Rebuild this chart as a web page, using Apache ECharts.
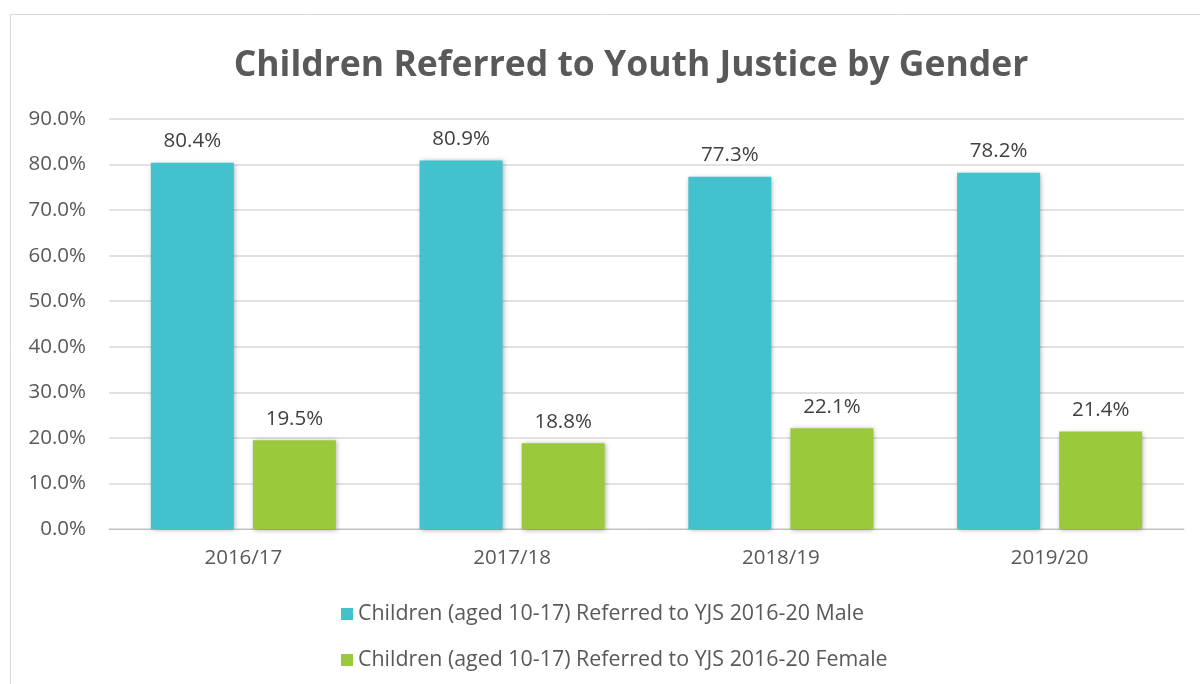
<!DOCTYPE html>
<html>
<head>
<meta charset="utf-8">
<script src="https://cdn.jsdelivr.net/npm/echarts@6/dist/echarts.min.js"></script>
<style>
  html, body { margin: 0; padding: 0; background: #ffffff; }
  #chart { width: 1200px; height: 684px; }
</style>
</head>
<body>
<div id="chart"></div>
<script>
// Years on the category axis
const years = ['2016/17', '2017/18', '2018/19', '2019/20'];
// Share of referred children (aged 10-17), in percent
const maleShare = [80.4, 80.9, 77.3, 78.2];
const femaleShare = [19.5, 18.8, 22.1, 21.4];
// Series names shown in the legend
const seriesNames = [
  'Children (aged 10-17) Referred to YJS 2016-20 Male',
  'Children (aged 10-17) Referred to YJS 2016-20 Female'
];

const FONT = '"Open Sans", "Noto Sans", sans-serif';
const TEXT = '#595959';

const chart = echarts.init(document.getElementById('chart'), null, { renderer: 'canvas' });

const barShadow = {
  shadowBlur: 5,
  shadowColor: 'rgba(0,0,0,0.35)',
  shadowOffsetX: 1,
  shadowOffsetY: 1
};

const valueLabel = {
  show: true,
  position: 'top',
  distance: 11,
  fontFamily: FONT,
  fontSize: 20.5,
  color: '#404040',
  formatter: p => p.value.toFixed(1) + '%'
};

chart.setOption({
  animation: false,
  backgroundColor: '#ffffff',
  graphic: [{
    type: 'rect',
    shape: { x: 10.5, y: 14.5, width: 1300, height: 800 },
    style: { fill: 'none', stroke: '#d9d9d9', lineWidth: 1 },
    silent: true,
    z: -10
  }],
  title: {
    text: 'Children Referred to Youth Justice by Gender',
    left: 626,
    top: 43,
    textAlign: 'center',
    textStyle: {
      fontFamily: FONT,
      fontSize: 35.5,
      fontWeight: 'bold',
      color: TEXT
    }
  },
  grid: {
    left: 109,
    right: 16,
    top: 119,
    bottom: 155,
    containLabel: false
  },
  legend: {
    orient: 'vertical',
    left: 336,
    top: 597,
    itemWidth: 12,
    itemHeight: 12,
    itemGap: 22,
    icon: 'rect',
    textStyle: {
      fontFamily: FONT,
      fontSize: 21.4,
      color: TEXT,
      lineHeight: 24
    },
    data: seriesNames
  },
  xAxis: {
    type: 'category',
    data: years,
    axisLine: { lineStyle: { color: '#bfbfbf', width: 1 } },
    axisTick: { show: false },
    axisLabel: {
      fontFamily: FONT,
      fontSize: 20.5,
      color: TEXT,
      margin: 19
    }
  },
  yAxis: {
    type: 'value',
    min: 0,
    max: 90,
    interval: 10,
    axisLine: { show: false },
    axisTick: { show: false },
    splitLine: { lineStyle: { color: '#d9d9d9', width: 1.5 } },
    axisLabel: {
      fontFamily: FONT,
      fontSize: 20.5,
      color: TEXT,
      margin: 23,
      formatter: v => v.toFixed(1) + '%'
    }
  },
  series: [
    {
      name: seriesNames[0],
      type: 'bar',
      data: maleShare,
      barWidth: 83,
      barGap: '23%',
      itemStyle: Object.assign({ color: '#43C2CE' }, barShadow),
      label: valueLabel
    },
    {
      name: seriesNames[1],
      type: 'bar',
      data: femaleShare,
      barWidth: 83,
      itemStyle: Object.assign({ color: '#9BC93C' }, barShadow),
      label: valueLabel
    }
  ]
});
</script>
</body>
</html>
